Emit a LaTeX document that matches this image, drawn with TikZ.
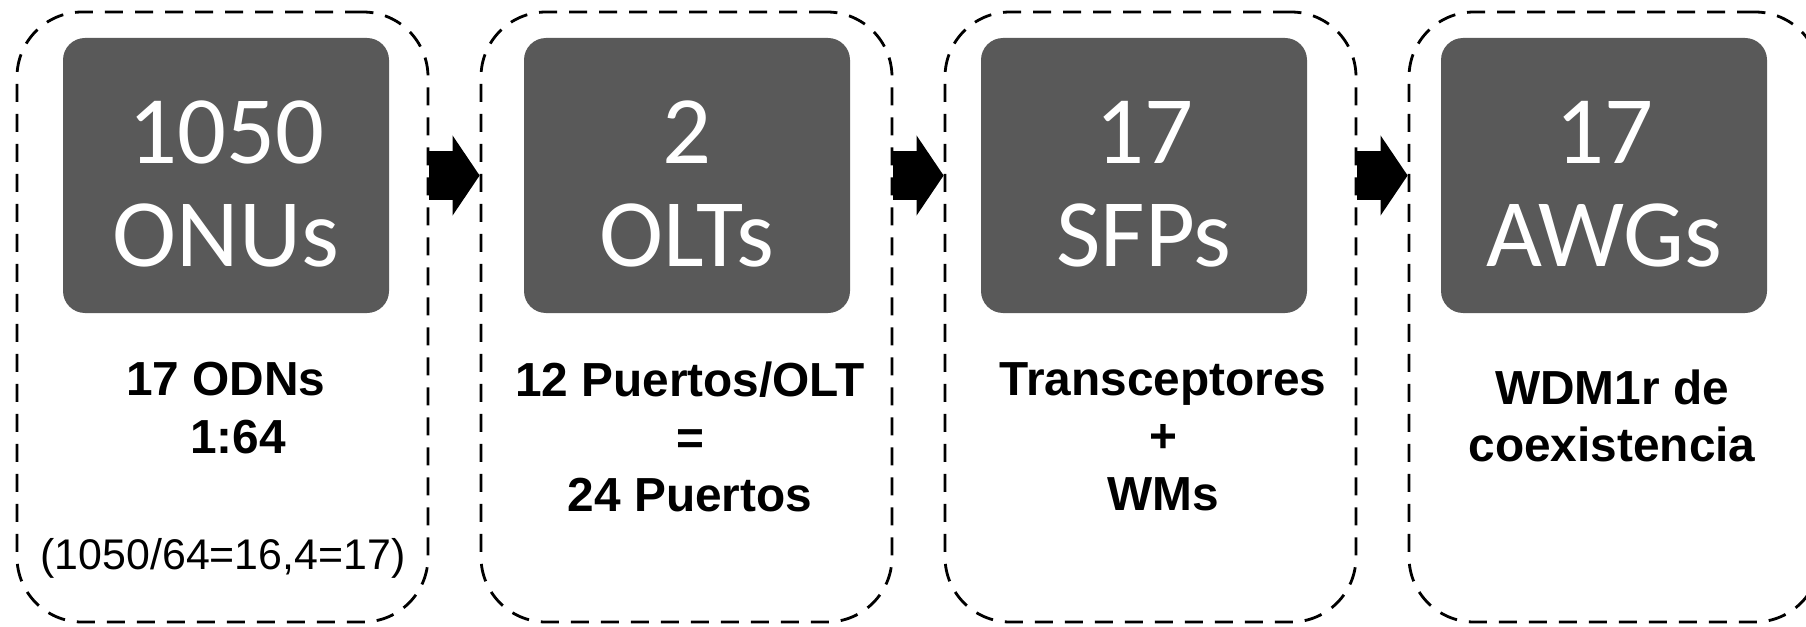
\documentclass[tikz,border=0pt]{standalone}
\usepackage{fontspec}
\setmainfont{Liberation Sans}
\newfontfamily\calfont{Carlito}
\usepackage{tikz}
\usetikzlibrary{arrows.meta,positioning}
\definecolor{boxgray}{RGB}{89,89,89}
\tikzset{
  stagebox/.style={draw, dash pattern=on 0.36cm off 0.24cm, line width=1.6pt,
                   rounded corners=1.3cm, minimum width=8.22cm,
                   minimum height=12.2cm, inner sep=0pt},
  numbox/.style  ={fill=boxgray, rounded corners=0.44cm, minimum width=6.52cm,
                   minimum height=5.5cm, inner sep=0pt},
  numtext/.style ={text=white, align=center, inner sep=0pt,
                   font=\calfont\fontsize{55}{58.6}\selectfont},
  desc/.style    ={align=center, inner sep=0pt,
                   font=\bfseries\fontsize{27.2}{32.7}\selectfont},
  note/.style    ={inner sep=0pt, font=\fontsize{24.4}{28}\selectfont},
  blockarr/.style={line width=0.96cm,
                   -{Triangle[length=0.54cm, width=1.6cm, line width=0pt]}},
}
\begin{document}
\begin{tikzpicture}
  \useasboundingbox (0,0) rectangle (36.12,12.52);
  \node[stagebox] (s1) at (4.45,6.18) {};
  \node[stagebox] (s2) at (13.73,6.18) {};
  \node[stagebox] (s3) at (23.01,6.18) {};
  \node[stagebox] (s4) at (32.29,6.18) {};

  \node[numbox] (onu) at (4.52,9.01) {};
  \node[numbox] (olt) at (13.74,9.01) {};
  \node[numbox] (sfp) at (22.88,9.01) {};
  \node[numbox] (awg) at (32.08,9.01) {};

  \node[numtext] (onut) at ([yshift=-0.17cm]onu.center) {1050\\ONUs};
  \node[numtext] (oltt) at ([yshift=-0.17cm]olt.center) {2\\OLTs};
  \node[numtext] (sfpt) at ([yshift=-0.17cm]sfp.center) {17\\SFPs};
  \node[numtext] (awgt) at ([yshift=-0.17cm]awg.center) {17\\AWGs};

  \node[desc, below=0.97cm of onu] (odn) {17 ODNs\\\hspace*{0.5em}1:64};
  \node[note, anchor=base] (odncalc) at ([xshift=-0.06cm,yshift=-5.13cm]onu.south)
        {(1050/64=16,4=17)};
  \node[desc, below=0.97cm of olt, xshift=0.06cm] (port)
        {12 Puertos/OLT\\=\\24 Puertos};
  \node[desc, below=0.97cm of sfp, xshift=0.38cm] (trx)
        {Transceptores\\+\\WMs};
  \node[desc, below=1.12cm of awg, xshift=0.16cm] (wdm)
        {WDM1r de\\coexistencia};

  \draw[blockarr] (s1.east |- onu.center) -- (s2.west |- onu.center);
  \draw[blockarr] (s2.east |- olt.center) -- (s3.west |- olt.center);
  \draw[blockarr] (s3.east |- sfp.center) -- (s4.west |- sfp.center);
\end{tikzpicture}
\end{document}
